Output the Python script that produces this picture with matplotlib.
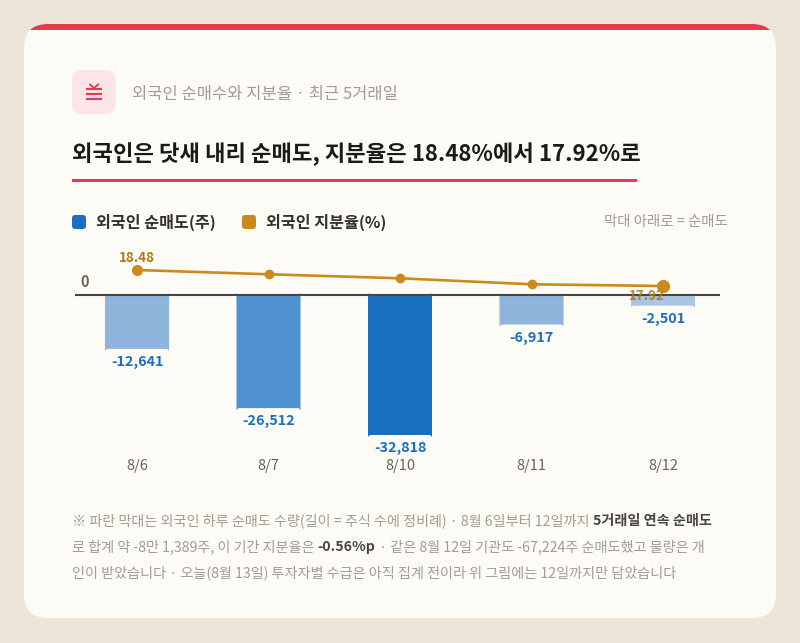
import matplotlib
matplotlib.use("Agg")
import matplotlib.pyplot as plt
from matplotlib.patches import FancyBboxPatch, Rectangle

plt.rcParams['font.family'] = ['Noto Sans CJK KR', 'DejaVu Sans']

# data
dates = ["8/6", "8/7", "8/10", "8/11", "8/12"]
net_sell = [-12641, -26512, -32818, -6917, -2501]
share_pct = [18.48, 18.33, 18.19, 17.98, 17.92]
bar_colors = ["#8fb5dc", "#4f92cf", "#1b6fc0", "#8fb5dc", "#a8c5e4"]

BG = "#ece4d8"
CARD = "#fdfbf6"
RED = "#e23b4e"
BLUE = "#1b6fc0"
GOLD = "#cc8a1e"
GOLD_TXT = "#b07a1a"
GRAY = "#a39c92"
DARK = "#1c1a18"

fig = plt.figure(figsize=(8, 6.43), dpi=100)
fig.patch.set_facecolor(BG)

# pixel overlay
bg = fig.add_axes([0, 0, 1, 1])
bg.set_xlim(0, 800)
bg.set_ylim(643, 0)
bg.axis("off")

card = FancyBboxPatch((24, 24), 752, 594, boxstyle="round,pad=0,rounding_size=24",
                      fc=CARD, ec="none")
bg.add_patch(card)
band = Rectangle((24, 24), 752, 6, fc=RED, ec="none")
bg.add_patch(band)
band.set_clip_path(card)

# icon
bg.add_patch(FancyBboxPatch((72, 70), 44, 44, boxstyle="round,pad=0,rounding_size=10",
                            fc="#fde4e8", ec="none"))
for yy in (88.5, 93.7, 98.5):
    bg.plot([86, 102], [yy, yy], color=RED, lw=1.5, solid_capstyle="butt")
bg.plot([90, 94, 98], [84.5, 88, 84.5], color=RED, lw=1.3)

bg.text(132, 94, "외국인 순매수와 지분율 · 최근 5거래일", fontsize=11.9, color=GRAY, va="center",
        fontweight="medium")
bg.text(72, 154, "외국인은 닷새 내리 순매도, 지분율은 18.48%에서 17.92%로", fontsize=16,
        fontweight="bold", color=DARK, va="center")
bg.add_patch(Rectangle((72, 179), 565, 3, fc=RED, ec="none"))

# legend
bg.add_patch(FancyBboxPatch((72, 215), 14, 14, boxstyle="round,pad=0,rounding_size=3", fc=BLUE, ec="none"))
bg.text(96, 222, "외국인 순매도(주)", fontsize=11.6, fontweight="bold", color="#33302c", va="center")
bg.add_patch(FancyBboxPatch((242, 215), 14, 14, boxstyle="round,pad=0,rounding_size=3", fc=GOLD, ec="none"))
bg.text(266, 222, "외국인 지분율(%)", fontsize=11.6, fontweight="bold", color="#33302c", va="center")
bg.text(728, 222, "막대 아래로 = 순매도", fontsize=10.4, color=GRAY, va="center", ha="right")
bg.text(80, 282, "0", fontsize=10.5, color="#6b635a", va="center", fontweight="bold")

# chart
ax = fig.add_axes([75 / 800, 1 - 440 / 643, 645 / 800, 190 / 643])
ax.patch.set_alpha(0)
x = list(range(len(dates)))
px_x = 1 / 131.5
px_y = 32818 / 140.0
ax.set_xlim(-62 * px_x, 583 * px_x)
ax.set_ylim(-145 * px_y, 45 * px_y)
bars = ax.bar(x, net_sell, width=0.487, color=bar_colors, zorder=2)
# rounded corners on the bars
for b in bars:
    rb = FancyBboxPatch((b.get_x(), b.get_y()), b.get_width(), b.get_height(),
                        boxstyle=f"round,pad=0,rounding_size={3 * px_x}",
                        mutation_aspect=px_y / px_x, fc=b.get_facecolor(), ec="none", zorder=2)
    ax.add_patch(rb)
    b.set_visible(False)
ax.axhline(0, color="#4a4440", lw=1.5, zorder=3)
for s in ax.spines.values():
    s.set_visible(False)
ax.set_xticks([])
ax.set_yticks([])

for i, v in enumerate(net_sell):
    ax.annotate(f"{v:,}", (i, v), xytext=(0, -9.5), textcoords="offset points",
                ha="center", va="center", fontsize=10.4, fontweight="bold", color=BLUE)
    ax.annotate(dates[i], (i, 0), xycoords=ax.get_xaxis_transform(), xytext=(0, -18.7),
                textcoords="offset points", ha="center", va="center", fontsize=10.5,
                color="#6b635a", fontweight="medium")

ax2 = ax.twinx()
ax2.set_ylim(18.48 - 170 * 0.035, 18.48 + 20 * 0.035)
ax2.axis("off")
ax2.plot(x, share_pct, color=GOLD, lw=1.9, zorder=4)
ax2.plot(x[1:-1], share_pct[1:-1], "o", color=GOLD, ms=6, zorder=5)
ax2.plot([x[0]], [share_pct[0]], "o", color=GOLD, ms=7, zorder=5)
ax2.plot([x[-1]], [share_pct[-1]], "o", color=GOLD, ms=8.5, zorder=5)
ax2.annotate(f"{share_pct[0]:.2f}", (x[0], share_pct[0]), xytext=(0, 8.6), textcoords="offset points",
             ha="center", va="center", fontsize=9.6, fontweight="bold", color=GOLD_TXT)
ax2.annotate(f"{share_pct[-1]:.2f}", (x[-1], share_pct[-1]), xytext=(-11.5, -7.3), textcoords="offset points",
             ha="center", va="center", fontsize=9.6, fontweight="bold", color=GOLD_TXT, alpha=0.9)

# footnote
fig.canvas.draw()
renderer = fig.canvas.get_renderer()


def rich(x0, y0, parts, size=10.2):
    xx = x0
    for s, b in parts:
        t = bg.text(xx, y0, s, fontsize=size, va="center",
                    fontweight="bold" if b else "normal", color="#4a4540" if b else GRAY)
        bb = t.get_window_extent(renderer)
        xx += bb.width


rich(72, 521, [("※ 파란 막대는 외국인 하루 순매도 수량(길이 = 주식 수에 정비례) · 8월 6일부터 12일까지 ", False),
               ("5거래일 연속 순매도", True)])
rich(72, 547, [("로 합계 약 -8만 1,389주, 이 기간 지분율은 ", False), ("-0.56%p", True),
               (" · 같은 8월 12일 기관도 -67,224주 순매도했고 물량은 개", False)])
rich(72, 573, [("인이 받았습니다 · 오늘(8월 13일) 투자자별 수급은 아직 집계 전이라 위 그림에는 12일까지만 담았습니다", False)])

fig.savefig("out.png", dpi=100, facecolor=BG)
